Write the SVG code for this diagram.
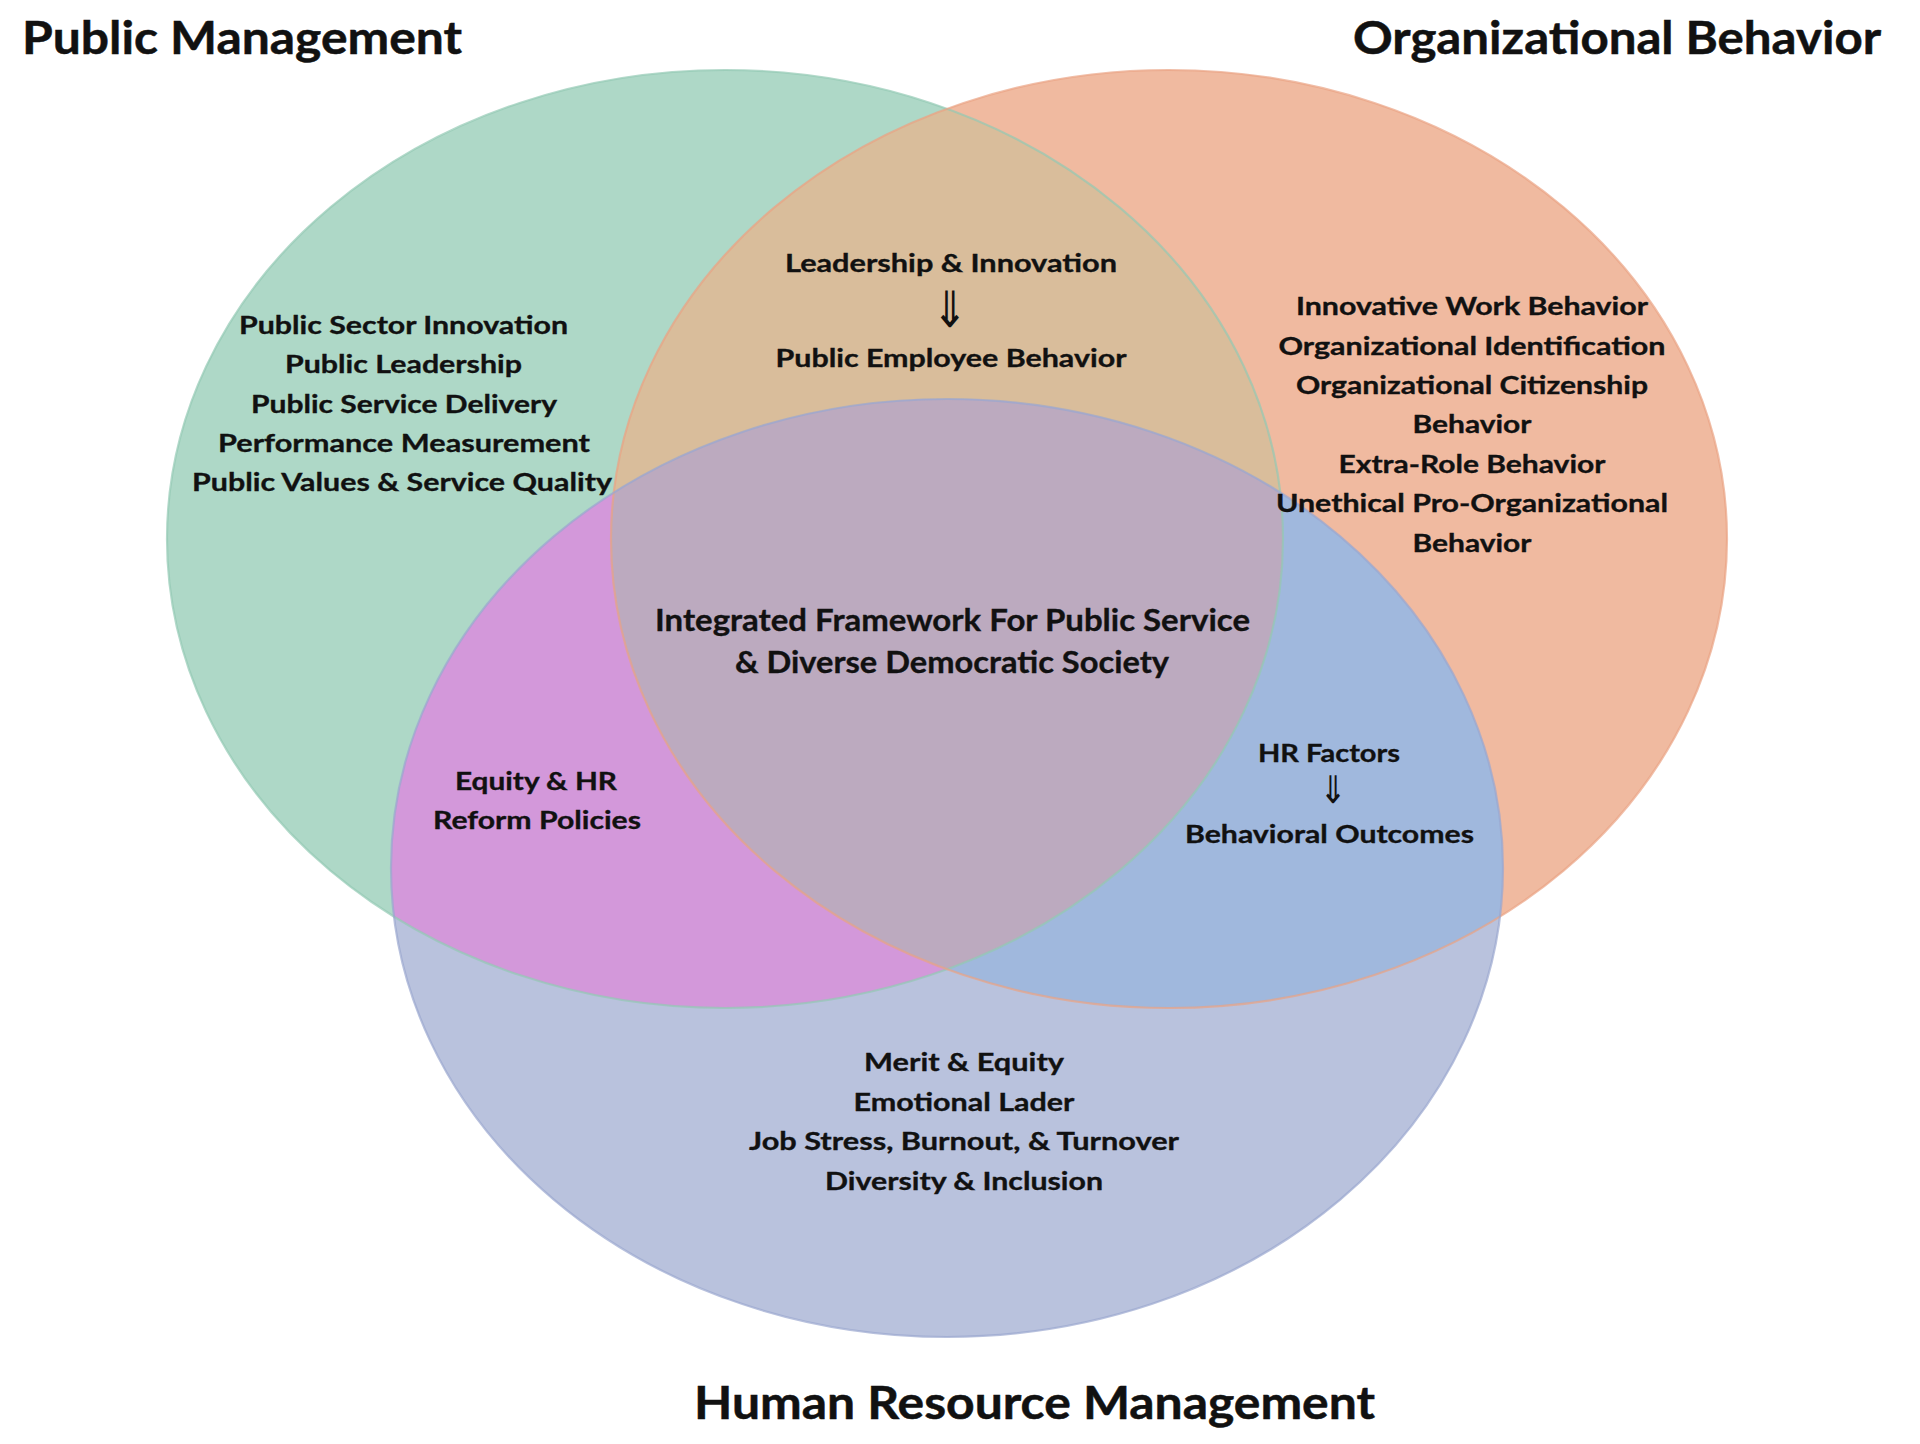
<svg xmlns="http://www.w3.org/2000/svg" width="1920" height="1444" viewBox="0 0 1920 1444">
<style>
.t{font-family:Lato,"Open Sans","Liberation Sans",sans-serif;font-weight:700;fill:#111;stroke:#111;stroke-width:0.35;text-anchor:middle;}
.s{font-size:25.5px;}
.c{font-size:30px;}
.h{font-size:46px;text-anchor:start;stroke-width:0.5;}
.ar{font-family:"DejaVu Sans",sans-serif;font-weight:400;fill:#111;text-anchor:middle;}
.edge{fill:none;stroke-width:2.2;}
</style>
<defs>
<ellipse id="eG" cx="725" cy="539" rx="558" ry="469"/>
<ellipse id="eO" cx="1169" cy="539" rx="558" ry="469"/>
<ellipse id="eB" cx="947" cy="868" rx="556" ry="469"/>
<clipPath id="cG"><use href="#eG"/></clipPath>
<clipPath id="cO"><use href="#eO"/></clipPath>
</defs>
<rect width="1920" height="1444" fill="#ffffff"/>

<g id="public-management">
<use href="#eG" fill="#aed8c7"/>
</g>
<g id="organizational-behavior">
<use href="#eO" fill="#f0baa0"/>
</g>
<g id="hrm">
<use href="#eB" fill="#b9c2dd"/>
</g>
<g id="overlaps">
<use href="#eO" fill="#d9bd9b" clip-path="url(#cG)"/>
<use href="#eB" fill="#d398da" clip-path="url(#cG)"/>
<use href="#eB" fill="#a0b8dd" clip-path="url(#cO)"/>
<g clip-path="url(#cO)"><use href="#eB" fill="#bcaabf" clip-path="url(#cG)"/></g>
</g>
<g id="edges">
<use href="#eG" class="edge" stroke="#93c9b3" stroke-opacity="0.7"/>
<use href="#eO" class="edge" stroke="#e9a283" stroke-opacity="0.7"/>
<use href="#eB" class="edge" stroke="#9aa6cf" stroke-opacity="0.7"/>
</g>
<g id="connectors"/>

<g id="titles">
<text class="t h" x="22" y="54" textLength="440" lengthAdjust="spacingAndGlyphs">Public Management</text>
<text class="t h" x="1353" y="54" textLength="528" lengthAdjust="spacingAndGlyphs">Organizational Behavior</text>
<text class="t h" x="694" y="1419" textLength="681" lengthAdjust="spacingAndGlyphs">Human Resource Management</text>
</g>

<g id="pm-topics">
<text class="t s" x="403.5" y="334" textLength="329" lengthAdjust="spacingAndGlyphs">Public Sector Innovation</text>
<text class="t s" x="403.5" y="373" textLength="237" lengthAdjust="spacingAndGlyphs">Public Leadership</text>
<text class="t s" x="404" y="413" textLength="306" lengthAdjust="spacingAndGlyphs">Public Service Delivery</text>
<text class="t s" x="404" y="452" textLength="372" lengthAdjust="spacingAndGlyphs">Performance Measurement</text>
<text class="t s" x="402" y="491" textLength="420" lengthAdjust="spacingAndGlyphs">Public Values &amp; Service Quality</text>
</g>

<g id="ob-topics">
<text class="t s" x="1472" y="315" textLength="352" lengthAdjust="spacingAndGlyphs">Innovative Work Behavior</text>
<text class="t s" x="1472" y="355" textLength="387" lengthAdjust="spacingAndGlyphs">Organizational Identification</text>
<text class="t s" x="1472" y="394" textLength="352" lengthAdjust="spacingAndGlyphs">Organizational Citizenship</text>
<text class="t s" x="1472" y="433" textLength="119" lengthAdjust="spacingAndGlyphs">Behavior</text>
<text class="t s" x="1472" y="473" textLength="267" lengthAdjust="spacingAndGlyphs">Extra-Role Behavior</text>
<text class="t s" x="1472" y="512" textLength="392" lengthAdjust="spacingAndGlyphs">Unethical Pro-Organizational</text>
<text class="t s" x="1472" y="552" textLength="119" lengthAdjust="spacingAndGlyphs">Behavior</text>
</g>

<g id="pm-ob-overlap">
<text class="t s" x="951" y="272" textLength="332" lengthAdjust="spacingAndGlyphs">Leadership &amp; Innovation</text>
<text class="ar" transform="translate(950,327) scale(0.85,1)" font-size="50">⇓</text>
<text class="t s" x="951" y="367" textLength="351" lengthAdjust="spacingAndGlyphs">Public Employee Behavior</text>
</g>

<g id="center">
<text class="t c" x="952.5" y="631" textLength="595" lengthAdjust="spacingAndGlyphs">Integrated Framework For Public Service</text>
<text class="t c" x="952" y="673" textLength="434" lengthAdjust="spacingAndGlyphs">&amp; Diverse Democratic Society</text>
</g>

<g id="pm-hrm-overlap">
<text class="t s" x="536" y="790" textLength="162" lengthAdjust="spacingAndGlyphs">Equity &amp; HR</text>
<text class="t s" x="537" y="829" textLength="208" lengthAdjust="spacingAndGlyphs">Reform Policies</text>
</g>

<g id="ob-hrm-overlap">
<text class="t s" x="1329" y="762" textLength="142" lengthAdjust="spacingAndGlyphs">HR Factors</text>
<text class="ar" transform="translate(1333,803) scale(0.85,1)" font-size="38">⇓</text>
<text class="t s" x="1329.5" y="843" textLength="289" lengthAdjust="spacingAndGlyphs">Behavioral Outcomes</text>
</g>

<g id="hrm-topics">
<text class="t s" x="964" y="1071" textLength="200" lengthAdjust="spacingAndGlyphs">Merit &amp; Equity</text>
<text class="t s" x="964" y="1111" textLength="221" lengthAdjust="spacingAndGlyphs">Emotional Lader</text>
<text class="t s" x="964" y="1150" textLength="430" lengthAdjust="spacingAndGlyphs">Job Stress, Burnout, &amp; Turnover</text>
<text class="t s" x="964" y="1190" textLength="278" lengthAdjust="spacingAndGlyphs">Diversity &amp; Inclusion</text>
</g>
</svg>
